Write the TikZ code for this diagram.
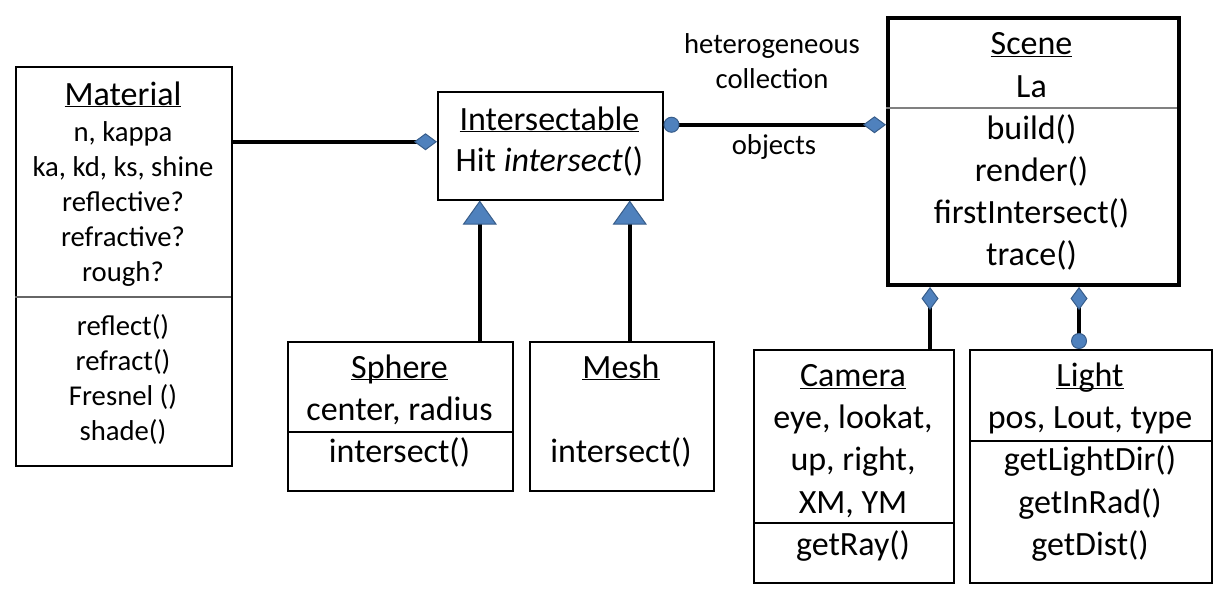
\documentclass[tikz,border=0pt]{standalone}
\usepackage{fontspec}
\setmainfont{Carlito}
\usetikzlibrary{arrows.meta}

\definecolor{umlblue}{HTML}{4F81BD}
\definecolor{umledge}{HTML}{385D8A}
\newcommand{\cname}[1]{\underline{\smash{#1}}}

\tikzset{
  cls/.style={draw, line width=1.5pt, inner sep=0pt, anchor=north west},
  sep/.style={line width=1.5pt},
  txt/.style={anchor=base, inner sep=0pt, font=\fontsize{34}{42}\selectfont},
  small/.style={anchor=base, inner sep=0pt, font=\fontsize{28.7}{35}\selectfont},
  link/.style={line width=4.5pt},
  aggdia/.tip={Diamond[length=23pt, width=17pt, color=umledge, fill=umlblue, line width=1pt]},
  inhtri/.tip={Triangle[length=24pt, width=34pt, color=umledge, fill=umlblue, line width=1pt]},
  rnd/.tip={Circle[length=16pt, color=umledge, fill=umlblue, line width=1pt]},
}

\begin{document}
\begin{tikzpicture}[x=1pt, y=-1pt]
  \useasboundingbox (0,0) rectangle (1222,594);

  % class boxes
  \node[cls, minimum width=216pt, minimum height=399pt] (mat) at (15,66) {};
  \node[cls, minimum width=225pt, minimum height=108pt] (inter) at (437,91) {};
  \node[cls, line width=4pt, minimum width=291pt, minimum height=267pt] (scene) at (886,16) {};
  \node[cls, minimum width=225pt, minimum height=149pt] (sphere) at (287,341) {};
  \node[cls, minimum width=184pt, minimum height=149pt] (mesh) at (529,341) {};
  \node[cls, minimum width=200pt, minimum height=233pt] (cam) at (753,349) {};
  \node[cls, minimum width=242pt, minimum height=233pt] (light) at (969,349) {};

  % compartment lines
  \draw[sep, black!60] (15,297) -- (231,297);
  \draw[sep, black!50] (886,108) -- (1177,108);
  \draw[sep] (287,432) -- (512,432);
  \draw[sep] (753,523) -- (953,523);
  \draw[sep] (969,441) -- (1211,441);

  % Material
  \node[txt] (mat-t) at (123,105) {\cname{Material}};
  \foreach \s [count=\i from 0] in {{n, kappa},{ka, kd, ks, shine},{reflective?},{refractive?},{rough?}}
    \node[small] (mat-a\i) at (123,{141+35*\i}) {\s};
  \foreach \s [count=\i from 0] in {{reflect()},{refract()},{Fresnel ()},{shade()}}
    \node[small] (mat-m\i) at (123,{335+35*\i}) {\s};

  % Intersectable
  \node[txt] (inter-t) at (549.5,130) {\cname{Intersectable}};
  \node[txt] (inter-m) at (549.5,171) {Hit \textit{intersect}()};

  % Scene
  \node[txt] (scene-t) at (1031.5,55) {\cname{Scene}};
  \foreach \s [count=\i from 1] in {{La},{build()},{render()},{firstIntersect()},{trace()}}
    \node[txt] (scene-\i) at (1031.5,{55+42*\i}) {\s};

  % Sphere and Mesh
  \node[txt] (sphere-t) at (399.5,378) {\cname{Sphere}};
  \node[txt] (sphere-a) at (399.5,420) {center, radius};
  \node[txt] (sphere-m) at (399.5,462.7) {intersect()};
  \node[txt] (mesh-t) at (621,378) {\cname{Mesh}};
  \node[txt] (mesh-m) at (621,462.7) {intersect()};

  % Camera
  \node[txt] (cam-t) at (853,386.7) {\cname{Camera}};
  \foreach \s [count=\i from 1] in {{eye, lookat,},{up, right,},{XM, YM},{getRay()}}
    \node[txt] (cam-\i) at (853,{386.7+42.1*\i}) {\s};

  % Light
  \node[txt] (light-t) at (1090,386.7) {\cname{Light}};
  \foreach \s [count=\i from 1] in {{pos, Lout, type},{getLightDir()},{getInRad()},{getDist()}}
    \node[txt] (light-\i) at (1090,{386.7+42.1*\i}) {\s};

  % association labels
  \node[small] (lab-het) at (772,53.3) {heterogeneous};
  \node[small] (lab-col) at (772,88.3) {collection};
  \node[small] (lab-obj) at (774,154) {objects};

  % connectors
  \coordinate (i-l) at ([yshift=4pt]inter.west);
  \draw[link, -aggdia] (mat.east |- i-l) -- (i-l);
  \coordinate (i-r) at ([yshift=21pt]inter.east);
  \draw[link, rnd-aggdia] (i-r) -- (i-r -| scene.west);
  \coordinate (i-b1) at ([xshift=-70.5pt]inter.south);
  \draw[link, -inhtri] (sphere.north -| i-b1) -- (i-b1);
  \coordinate (i-b2) at ([xshift=79.5pt]inter.south);
  \draw[link, -inhtri] (mesh.north -| i-b2) -- (i-b2);
  \coordinate (s-b1) at ([xshift=-103.5pt]scene.south);
  \draw[link, -aggdia] (cam.north -| s-b1) -- (s-b1);
  \coordinate (s-b2) at ([xshift=45.5pt]scene.south);
  \draw[link, rnd-aggdia] (light.north -| s-b2) -- (s-b2);
\end{tikzpicture}
\end{document}
